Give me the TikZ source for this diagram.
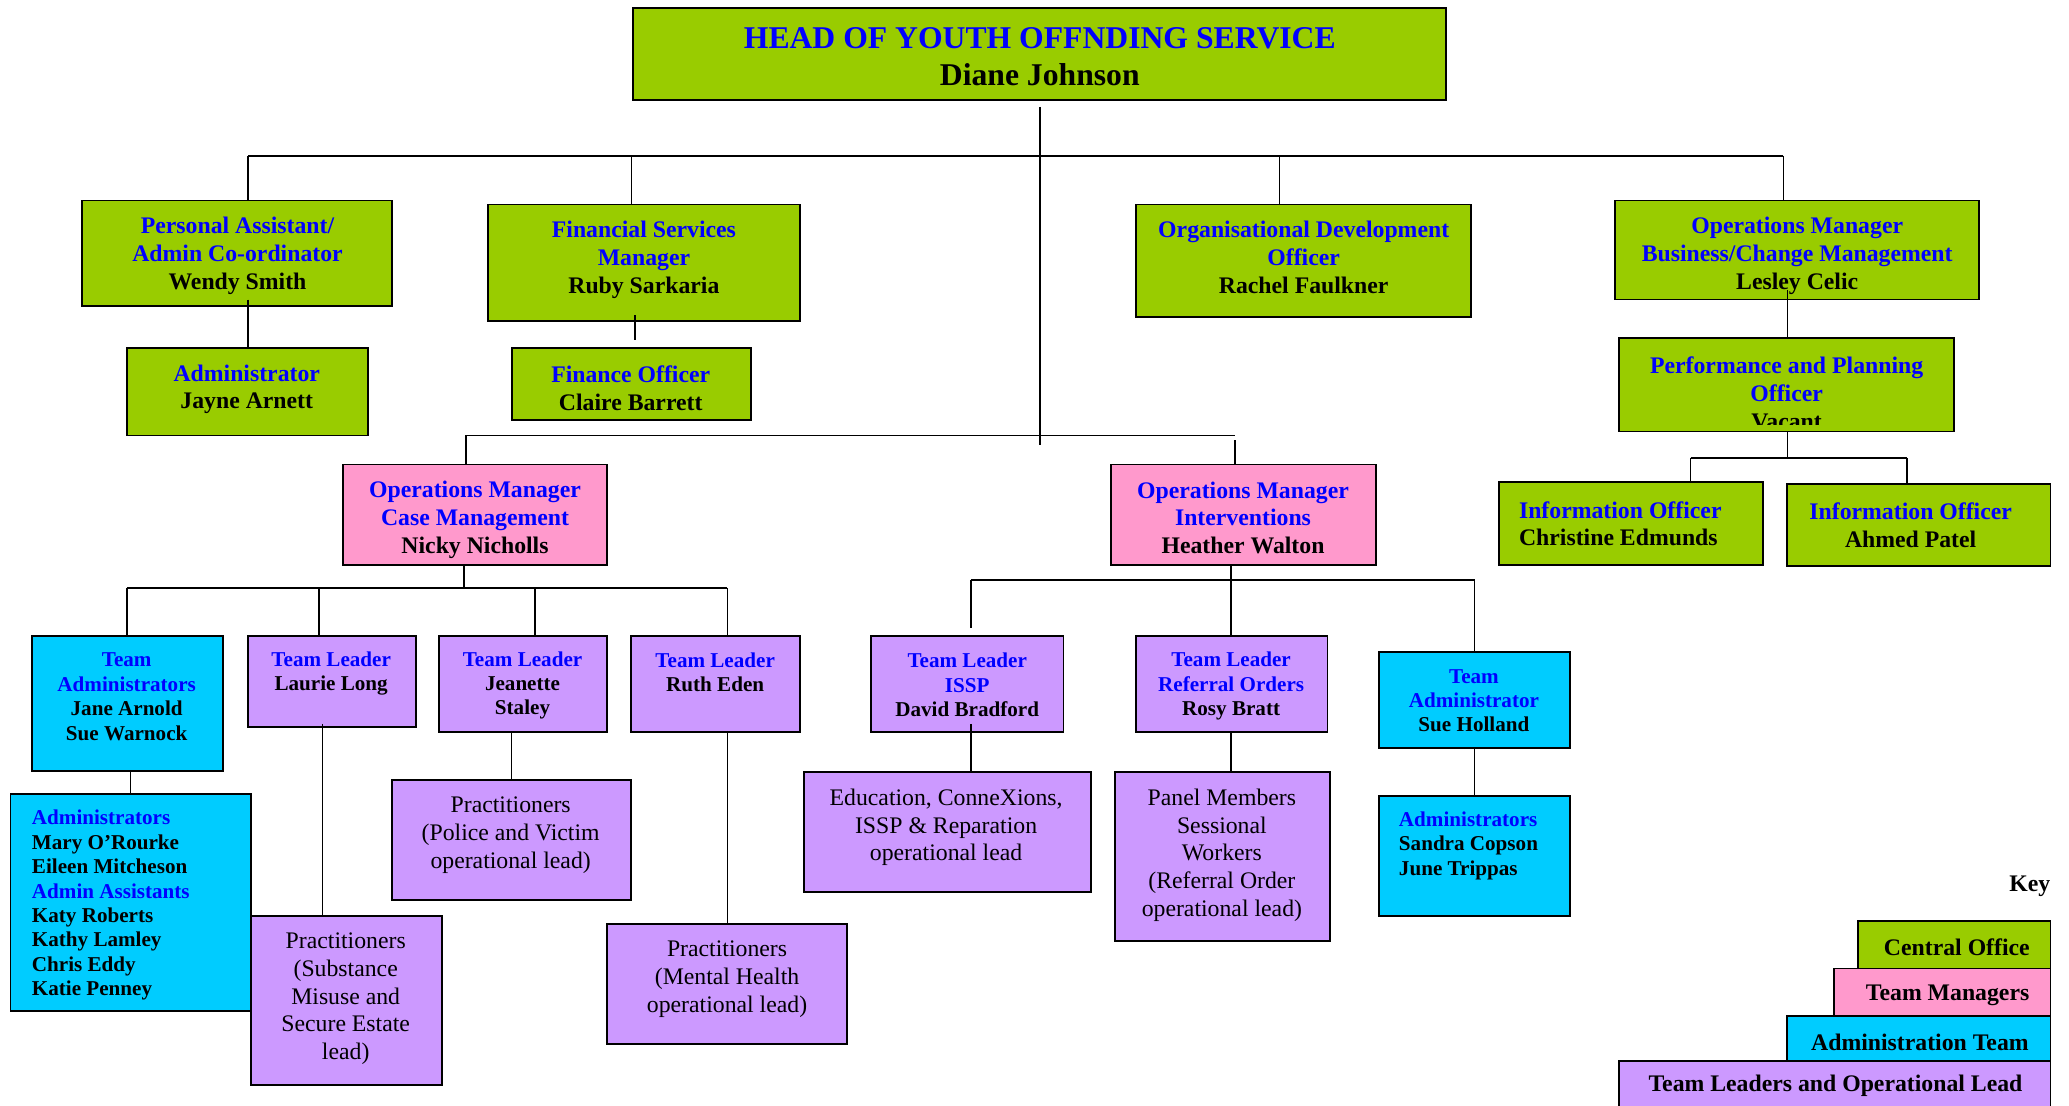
\documentclass[tikz,border=0pt]{standalone}
\usepackage{fontspec}
\setmainfont{Liberation Serif}
\usetikzlibrary{calc}
\definecolor{cgreen}{HTML}{99CC00}
\definecolor{cpink}{HTML}{FF99CC}
\definecolor{ccyan}{HTML}{00CCFF}
\definecolor{clilac}{HTML}{CC99FF}
\definecolor{ublue}{HTML}{0000FF}
\newcommand\blu[1]{\textcolor{ublue}{#1}}
\newcommand\obox[6]{\node[#2,minimum width={(#5)-(#3)},minimum height={(#6)-(#4)}] (#1) at ({((#3)+(#5))/2},{((#4)+(#6))/2}) {};}
\begin{document}
\begin{tikzpicture}[x=1pt,y=-1pt,
  box/.style={draw=black,line width=1.4pt,inner sep=0pt,outer sep=0pt,rectangle},
  gbox/.style={box,fill=cgreen},
  pbox/.style={box,fill=cpink},
  cbox/.style={box,fill=ccyan},
  lbox/.style={box,fill=clilac},
  conn/.style={line width=1.25pt,draw=black},
  tt/.style={inner sep=0pt,align=center,font=\fontsize{24}{28}\selectfont\bfseries},
  tb/.style={inner sep=0pt,align=center,font=\fontsize{18}{21}\selectfont\bfseries},
  ts/.style={inner sep=0pt,align=center,font=\fontsize{16}{18.5}\selectfont\bfseries},
  tsl/.style={inner sep=0pt,align=left,anchor=west,font=\fontsize{16}{18.5}\selectfont\bfseries},
  tr/.style={inner sep=0pt,align=center,font=\fontsize{18}{21}\selectfont},
]
\useasboundingbox (0,0) rectangle (1568,838);
\clip (0,0) rectangle (1568,838);

% ---------- boxes ----------
\obox{head}{gbox}{480}{6}{1096}{76}
\obox{pa}{gbox}{62}{152}{297}{232}
\obox{fsm}{gbox}{370}{155}{606}{243}
\obox{odo}{gbox}{861}{155}{1115}{240}
\obox{omb}{gbox}{1224}{152}{1500}{227}
\obox{adm}{gbox}{96}{264}{279}{330}
\obox{fo}{gbox}{388}{264}{569}{318}
\obox{ppo}{gbox}{1227}{256}{1481}{327}
\obox{io1}{gbox}{1136}{365}{1336}{428}
\obox{io2}{gbox}{1354}{367}{1554}{429}
\obox{omcm}{pbox}{260}{352}{460}{428}
\obox{omi}{pbox}{842}{352}{1043}{428}
\obox{ta}{cbox}{24}{482}{169}{584}
\obox{tl1}{lbox}{188}{482}{315}{551}
\obox{tl2}{lbox}{333}{482}{460}{555}
\obox{tl3}{lbox}{478}{482}{606}{555}
\obox{adml}{cbox}{8}{602}{190}{766}
\obox{pr1}{lbox}{190}{694}{335}{822}
\obox{pr2}{lbox}{297}{591}{478}{682}
\obox{pr3}{lbox}{460}{700}{642}{791}
\obox{tl4}{lbox}{660}{482}{806}{555}
\obox{tl5}{lbox}{861}{482}{1006}{555}
\obox{ta2}{cbox}{1045}{494}{1190}{567}
\obox{edu}{lbox}{609}{585}{827}{676}
\obox{pan}{lbox}{845}{585}{1008}{713}
\obox{admr}{cbox}{1045}{603}{1190}{694}
\obox{k1}{gbox}{1408}{698}{1554}{734}
\obox{k2}{pbox}{1390}{734}{1554}{770}
\obox{k3}{cbox}{1354}{770}{1554}{804}
\obox{k4}{lbox}{1227}{804}{1554}{845}

% ---------- connectors ----------
\coordinate (hb) at (788,81);
\coordinate (hm) at (788,337);
\draw[conn] (hb) -- (hm);
\coordinate (b1) at (188,118);
\coordinate (b2) at (478.6,118);
\coordinate (b3) at (969.7,118);
\coordinate (b4) at (1351.5,118);
\draw[conn] (b1) -- (b4);
\draw[conn] (b1) -- (b1 |- pa.north);
\draw[conn] (b2) -- (b2 |- fsm.north);
\draw[conn] (b3) -- (b3 |- odo.north);
\draw[conn] (b4) -- (b4 |- omb.north);
% PA -> Administrator
\coordinate (pa1) at (188,227);
\draw[conn] (pa1) -- (pa1 |- adm.north);
% FSM -> Finance Officer
\coordinate (fs1) at (481,239);
\coordinate (fs2) at (481,258);
\draw[conn] (fs1) -- (fs2);
% OMB -> PPO
\coordinate (om1) at (1354.6,220);
\draw[conn] (om1) -- (om1 |- ppo.north);
% PPO -> info officers
\coordinate (pp1) at (1354.6,347);
\coordinate (pp2) at (1281.2,347);
\coordinate (pp3) at (1445,347);
\draw[conn] (pp1 |- ppo.south) -- (pp1);
\draw[conn] (pp2) -- (pp3);
\draw[conn] (pp2) -- (pp2 |- io1.north);
\draw[conn] (pp3) -- (pp3 |- io2.north);
% middle bus
\coordinate (m1) at (353,330);
\coordinate (m2) at (936,330);
\coordinate (m3) at (936,333.5);
\draw[conn] (m1) -- (m2);
\draw[conn] (m1) -- (m1 |- omcm.north);
\draw[conn] (m3) -- (m3 |- omi.north);
% case management
\coordinate (cm0) at (351.4,445.5);
\coordinate (cm1) at (96.2,445.5);
\coordinate (cm2) at (241.9,445.5);
\coordinate (cm3) at (405.6,445.5);
\coordinate (cm4) at (551.3,445.5);
\draw[conn] (cm0 |- omcm.south) -- (cm0);
\draw[conn] (cm1) -- (cm4);
\draw[conn] (cm1) -- (cm1 |- ta.north);
\draw[conn] (cm2) -- (cm2 |- tl1.north);
\draw[conn] (cm3) -- (cm3 |- tl2.north);
\draw[conn] (cm4) -- (cm4 |- tl3.north);
\coordinate (x1) at (98.9,0);
\draw[conn] (x1 |- ta.south) -- (x1 |- adml.north);
\coordinate (x2) at (244.5,548.5);
\draw[conn] (x2) -- (x2 |- pr1.north);
\coordinate (x3) at (387.6,0);
\draw[conn] (x3 |- tl2.south) -- (x3 |- pr2.north);
\coordinate (x4) at (551.3,0);
\draw[conn] (x4 |- tl3.south) -- (x4 |- pr3.north);
% interventions
\coordinate (iv0) at (933,439.4);
\coordinate (iv1) at (735.7,439.4);
\coordinate (iv2) at (1117.5,439.4);
\coordinate (iv1e) at (735.7,476);
\draw[conn] (iv0 |- omi.south) -- (iv0 |- tl5.north);
\draw[conn] (iv1) -- (iv2);
\draw[conn] (iv1) -- (iv1e);
\draw[conn] (iv2) -- (iv2 |- ta2.north);
\coordinate (x5) at (735.7,548.5);
\draw[conn] (x5) -- (x5 |- edu.north);
\draw[conn] (iv0 |- tl5.south) -- (iv0 |- pan.north);
\draw[conn] (iv2 |- ta2.south) -- (iv2 |- admr.north);

% ---------- texts ----------
\node[tt] (headt) at (788,43) {\blu{HEAD OF YOUTH OFFNDING SERVICE}\\Diane Johnson};
\node[tb] (pat) at (180,194) {\blu{Personal Assistant/}\\\blu{Admin Co-ordinator}\\Wendy Smith};
\node[tb] (fsmt) at (488,197) {\blu{Financial Services}\\\blu{Manager}\\Ruby Sarkaria};
\node[tb] (odot) at (988,195) {\blu{Organisational Development}\\\blu{Officer}\\Rachel Faulkner};
\node[tb] (ombt) at (1362,194) {\blu{Operations Manager}\\\blu{Business/Change Management}\\Lesley Celic};
\node[tb] (admt) at (187,295) {\blu{Administrator}\\Jayne Arnett};
\node[tb] (fot) at (478,294) {\blu{Finance Officer}\\Claire Barrett};
\begin{scope}
\clip (1227,256) rectangle (1481,322);
\node[tb] (ppot) at (1354,298) {\blu{Performance and Planning}\\\blu{Officer}\\Vacant};
\end{scope}
\node[tb,align=left,anchor=west] (io1t) at (1151,397) {\blu{Information Officer}\\Christine Edmunds};
\node[tb] (io2t) at (1448,398) {\blu{Information Officer}\\Ahmed Patel};
\node[tb] (omcmt) at (360,394) {\blu{Operations Manager}\\\blu{Case Management}\\Nicky Nicholls};
\node[tb] (omit) at (942,392.5) {\blu{Operations Manager}\\\blu{Interventions}\\Heather Walton};
\node[ts] (tat) at (96,528) {\blu{Team}\\\blu{Administrators}\\Jane Arnold\\Sue Warnock};
\node[ts] (tl1t) at (251,510.5) {\blu{Team Leader}\\Laurie Long};
\node[ts] (tl2t) at (396,519.5) {\blu{Team Leader}\\Jeanette\\Staley};
\node[ts] (tl3t) at (542,509.5) {\blu{Team Leader}\\Ruth Eden};
\node[tsl] (admlt) at (24,686) {\blu{Administrators}\\Mary O’Rourke\\Eileen Mitcheson\\\blu{Admin Assistants}\\Katy Roberts\\Kathy Lamley\\Chris Eddy\\Katie Penney};
\node[tr] (pr1t) at (262,757) {Practitioners\\(Substance\\Misuse and\\Secure Estate\\lead)};
\node[tr] (pr2t) at (387,633) {Practitioners\\(Police and Victim\\operational lead)};
\node[tr] (pr3t) at (551,742) {Practitioners\\(Mental Health\\operational lead)};
\node[ts] (tl4t) at (733,519) {\blu{Team Leader}\\\blu{ISSP}\\David Bradford};
\node[ts] (tl5t) at (933,520) {\blu{Team Leader}\\\blu{Referral Orders}\\Rosy Bratt};
\node[ts] (ta2t) at (1117,531) {\blu{Team}\\\blu{Administrator}\\Sue Holland};
\node[tr] (edut) at (717,627) {Education, ConneXions,\\ISSP \& Reparation\\operational lead};
\node[tr] (pant) at (926,648) {Panel Members\\Sessional\\Workers\\(Referral Order\\operational lead)};
\node[tsl] (admrt) at (1060,641) {\blu{Administrators}\\Sandra Copson\\June Trippas};
% key
\node[tb,anchor=east] (keyt) at (1554,672) {Key};
\node[tb] (k1t) at (1483,718) {Central Office};
\node[tb] (k2t) at (1476,754) {Team Managers};
\node[tb] (k3t) at (1455,790) {Administration Team};
\node[tb] (k4t) at (1391,823) {Team Leaders and Operational Lead};
\end{tikzpicture}
\end{document}
